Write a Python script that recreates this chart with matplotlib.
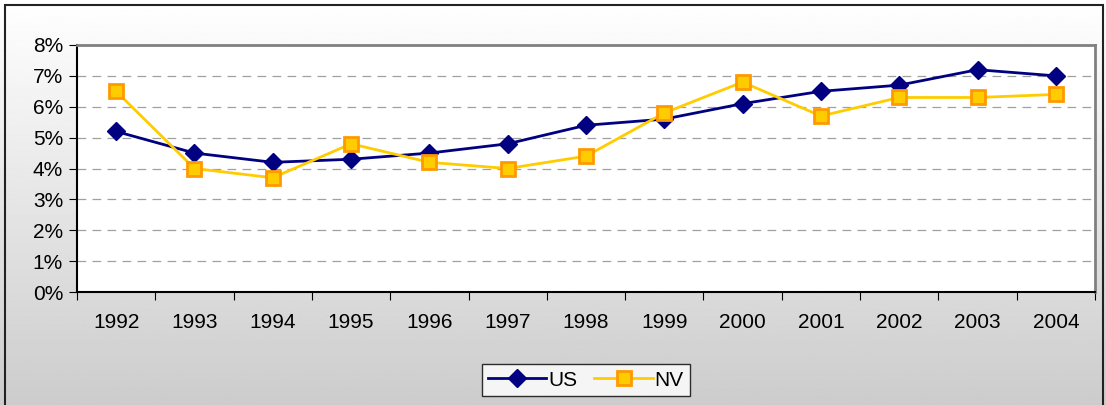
import matplotlib.pyplot as plt
import numpy as np
from matplotlib.patches import Rectangle
from matplotlib.ticker import FixedLocator, FuncFormatter

plt.rcParams['font.family'] = ['Liberation Sans', 'DejaVu Sans']

years = ['1992', '1993', '1994', '1995', '1996', '1997', '1998',
         '1999', '2000', '2001', '2002', '2003', '2004']
us = [5.2, 4.5, 4.2, 4.3, 4.5, 4.8, 5.4, 5.6, 6.1, 6.5, 6.7, 7.2, 7.0]
nv = [6.5, 4.0, 3.7, 4.8, 4.2, 4.0, 4.4, 5.8, 6.8, 5.7, 6.3, 6.3, 6.4]

W, H = 1106, 405
fig = plt.figure(figsize=(W / 100, H / 100), dpi=100)

# gradient background
bg = fig.add_axes([0, 0, 1, 1], zorder=-10)
grad = np.linspace(1.0, 0.80, 256).reshape(-1, 1)
bg.imshow(grad, aspect='auto', cmap='gray', vmin=0, vmax=1,
          extent=[0, 1, 0, 1], origin='upper')
bg.add_patch(Rectangle((5 / W, -0.1), (1103 - 5) / W, 1.1 - 5 / H,
                       fill=False, edgecolor='#222222', lw=1.5,
                       transform=bg.transAxes))
bg.set_xlim(0, 1)
bg.set_ylim(0, 1)
bg.axis('off')

ax = fig.add_axes([77 / W, (H - 292) / H, (1095 - 77) / W, (292 - 45) / H])
ax.set_facecolor('white')
x = np.arange(len(years))

ax.plot(x, us, color='#000080', lw=2, marker='D', ms=9,
        mfc='#000080', mec='#000080', label='US', zorder=3)
ax.plot(x, nv, color='#FFCC00', lw=2, marker='s', ms=10,
        mfc='#FFCC00', mec='#FF9900', mew=2, label='NV', zorder=3)

ax.set_xlim(-0.5, len(years) - 0.5)
ax.set_ylim(0, 8)
ax.set_yticks(range(0, 9))
ax.yaxis.set_major_formatter(FuncFormatter(lambda v, p: '%d%%' % v))
ax.grid(axis='y', color='#a0a0a0', ls=(0, (7, 5)), lw=0.9)

ax.xaxis.set_major_locator(FixedLocator(np.arange(-0.5, len(years), 1)))
ax.xaxis.set_major_formatter(FuncFormatter(lambda v, p: ''))
ax.xaxis.set_minor_locator(FixedLocator(x))
ax.set_xticklabels(years, minor=True)
ax.tick_params(axis='x', which='minor', length=0, pad=15, labelsize=15)
ax.tick_params(axis='x', which='major', length=6, direction='out')
ax.tick_params(axis='y', length=6, direction='out', labelsize=15, pad=4)

for s in ['left', 'bottom']:
    ax.spines[s].set_color('#000000')
    ax.spines[s].set_linewidth(1.5)
for s in ['top', 'right']:
    ax.spines[s].set_color('#808080')
    ax.spines[s].set_linewidth(2)

leg = fig.legend(loc='center', bbox_to_anchor=(586 / W, (H - 380) / H),
                 ncol=2, frameon=True, fancybox=False, fontsize=15,
                 handlelength=2.8, handletextpad=0.1, columnspacing=0.8,
                 borderpad=0.3)
leg.get_frame().set_edgecolor('#000000')
leg.get_frame().set_linewidth(1)

fig.savefig('out.png', dpi=100)
